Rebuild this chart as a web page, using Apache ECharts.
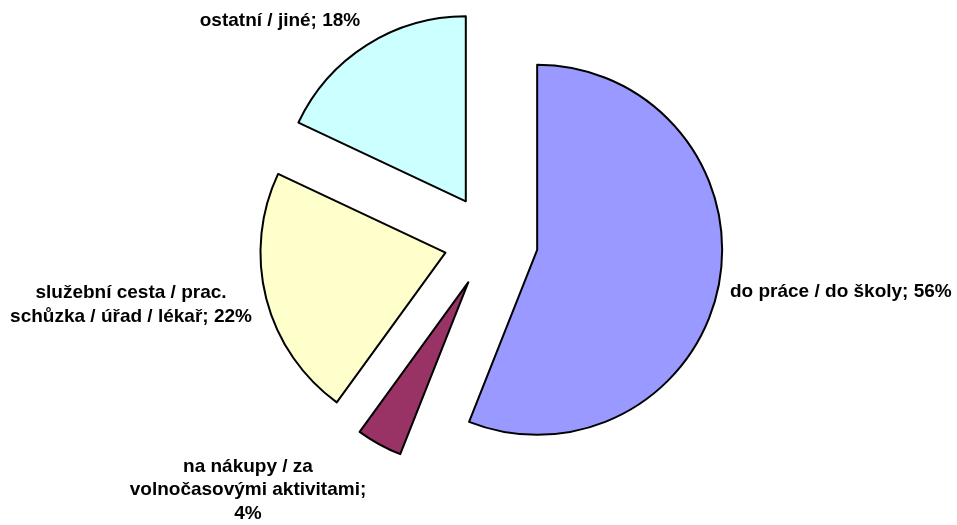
<!DOCTYPE html>
<html><head><meta charset="utf-8">
<script src="https://cdn.jsdelivr.net/npm/echarts@6/dist/echarts.min.js"></script>
<style>html,body{margin:0;padding:0;background:#fff}#c{width:957px;height:525px}</style>
</head><body><div id="c"></div>
<script>
const categories = ['do práce / do školy', 'na nákupy / za volnočasovými aktivitami', 'služební cesta / prac. schůzka / úřad / lékař', 'ostatní / jiné'];
const labelNames = ['do práce / do školy; ', 'na nákupy / za\nvolnočasovými aktivitami;\n', 'služební cesta / prac.\nschůzka / úřad / lékař; ', 'ostatní / jiné; '];
const values = [56, 4, 22, 18];
const colors = ['#9999FF', '#993366', '#FFFFCC', '#CCFFFF'];

// label placement (layout only)
const labelLayouts = [
  {x: 730, y: 292, align: 'left'},
  {x: 248, y: 490, align: 'center'},
  {x: 131, y: 305, align: 'center'},
  {x: 280, y: 21, align: 'center'}
];

const chart = echarts.init(document.getElementById('c'), null, {renderer: 'canvas'});
chart.setOption({
  animation: false,
  graphic: values.map((v, i) => ({
    type: 'text',
    x: labelLayouts[i].x,
    y: labelLayouts[i].y,
    silent: true,
    style: {
      text: labelNames[i] + v + '%',
      fill: '#000',
      font: 'bold 19px "Liberation Sans", Arial, sans-serif',
      lineHeight: 23.5,
      align: labelLayouts[i].align,
      verticalAlign: 'middle'
    }
  })),
  series: [{
    type: 'pie',
    center: [491, 241],
    radius: 185,
    startAngle: 90,
    clockwise: true,
    selectedMode: 'multiple',
    selectedOffset: 47,
    emphasis: {disabled: true},
    itemStyle: {borderColor: '#000', borderWidth: 2},
    label: {show: false},
    labelLine: {show: false},
    data: values.map((v, i) => ({
      name: categories[i], value: v, selected: true,
      itemStyle: {color: colors[i]}
    }))
  }]
});
</script></body></html>
